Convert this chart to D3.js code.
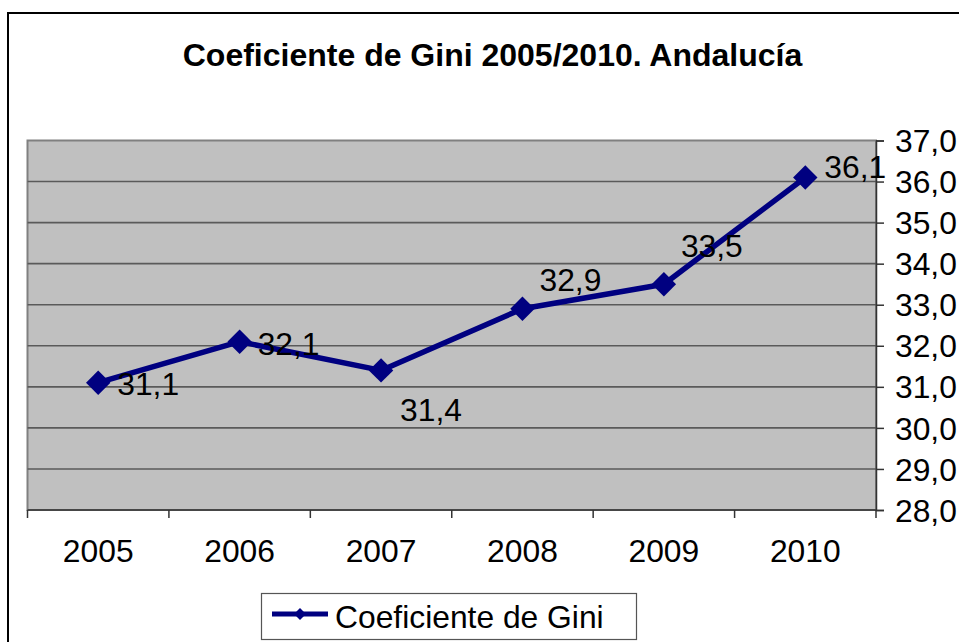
<!DOCTYPE html>
<html>
<head>
<meta charset="utf-8">
<script src="https://cdn.jsdelivr.net/npm/d3@7"></script>
<style>
  html, body { margin: 0; padding: 0; background: #fff; }
  svg { display: block; }
  text { font-family: "Liberation Sans", Arial, "DejaVu Sans", sans-serif; fill: #000; }
</style>
</head>
<body>
<svg id="chart" width="959" height="642"></svg>
<script>
// Coeficiente de Gini, Andalucía 2005–2010
const years = ["2005", "2006", "2007", "2008", "2009", "2010"];
const giniValues = [31.1, 32.1, 31.4, 32.9, 33.5, 36.1];
const yTickValues = [28, 29, 30, 31, 32, 33, 34, 35, 36, 37];
const titleText = "Coeficiente de Gini 2005/2010. Andalucía";
const seriesName = "Coeficiente de Gini";

// label placement relative to each point (dx to the text start, dy to the baseline)
const labelOffsets = [[19, 12], [18, 13], [19, 51], [17, -18], [17, -27], [19, 1]];

const fmt = d => d.toFixed(1).replace(".", ",");

const svg = d3.select("#chart");
const navy = "#000080";
const fontSize = "31.8px";

const plot = { left: 27.5, right: 876, top: 140.5, bottom: 510 };

const x = d3.scaleBand().domain(years).range([plot.left, plot.right]).padding(0);
const y = d3.scaleLinear().domain([28, 37]).range([plot.bottom, plot.top]);
const cx = d => x(d) + x.bandwidth() / 2;

// outer chart frame (right and bottom edges lie past the canvas)
svg.append("rect")
  .attr("x", 8).attr("y", 13).attr("width", 1000).attr("height", 1000)
  .attr("fill", "none").attr("stroke", "#000").attr("stroke-width", 2);

// title
svg.append("text")
  .attr("x", 492.5).attr("y", 66)
  .attr("text-anchor", "middle")
  .style("font-size", "32px").style("font-weight", "bold")
  .text(titleText);

// plot background
svg.append("rect")
  .attr("x", plot.left).attr("y", plot.top)
  .attr("width", plot.right - plot.left).attr("height", plot.bottom - plot.top)
  .attr("fill", "#c0c0c0").attr("stroke", "#808080").attr("stroke-width", 2);

// horizontal gridlines
svg.append("g").selectAll("line")
  .data(yTickValues.filter(v => v > 28 && v < 37))
  .join("line")
  .attr("x1", plot.left).attr("x2", plot.right)
  .attr("y1", d => y(d)).attr("y2", d => y(d))
  .attr("stroke", "#5a5a5a").attr("stroke-width", 1.6);

// right value axis
const yAxis = svg.append("g")
  .attr("transform", `translate(${plot.right},0)`)
  .call(d3.axisRight(y).tickValues(yTickValues).tickFormat(fmt).tickSize(8).tickPadding(11));
yAxis.select(".domain").attr("stroke", "#333").attr("stroke-width", 1.5);
yAxis.selectAll(".tick line").attr("stroke", "#333").attr("stroke-width", 1.5);
yAxis.selectAll(".tick text")
  .style("font-size", fontSize)
  .style("font-family", '"Liberation Sans", Arial, sans-serif')
  .attr("fill", "#000").attr("dy", "0.35em");

// bottom category axis: line, boundary ticks, labels
svg.append("line")
  .attr("x1", plot.left).attr("x2", plot.right)
  .attr("y1", plot.bottom).attr("y2", plot.bottom)
  .attr("stroke", "#333").attr("stroke-width", 1.5);

const boundaries = years.map(d => x(d)).concat([plot.right]);
svg.append("g").selectAll("line")
  .data(boundaries)
  .join("line")
  .attr("x1", d => d).attr("x2", d => d)
  .attr("y1", plot.bottom).attr("y2", plot.bottom + 8)
  .attr("stroke", "#333").attr("stroke-width", 1.5);

svg.append("g").selectAll("text")
  .data(years)
  .join("text")
  .attr("x", d => cx(d)).attr("y", 562)
  .attr("text-anchor", "middle")
  .style("font-size", fontSize)
  .text(d => d);

// series line
const points = years.map((yr, i) => ({ yr, v: giniValues[i], i }));
const line = d3.line().x(d => cx(d.yr)).y(d => y(d.v));

svg.append("path")
  .datum(points)
  .attr("d", line)
  .attr("fill", "none").attr("stroke", navy)
  .attr("stroke-width", 5.5).attr("stroke-linejoin", "round");

// diamond markers
const diamond = d3.symbol().type(d3.symbolDiamond2).size(380);
svg.append("g").selectAll("path")
  .data(points)
  .join("path")
  .attr("d", diamond)
  .attr("transform", d => `translate(${cx(d.yr)},${y(d.v)})`)
  .attr("fill", navy);

// value labels
svg.append("g").selectAll("text")
  .data(points)
  .join("text")
  .attr("x", d => cx(d.yr) + labelOffsets[d.i][0])
  .attr("y", d => y(d.v) + labelOffsets[d.i][1])
  .style("font-size", fontSize)
  .text(d => fmt(d.v));

// legend
const legend = svg.append("g");
legend.append("rect")
  .attr("x", 261.5).attr("y", 593.5).attr("width", 375).attr("height", 46)
  .attr("fill", "#fff").attr("stroke", "#555").attr("stroke-width", 1.2);
legend.append("line")
  .attr("x1", 272).attr("x2", 328).attr("y1", 614).attr("y2", 614)
  .attr("stroke", navy).attr("stroke-width", 5);
legend.append("path")
  .attr("d", d3.symbol().type(d3.symbolDiamond2).size(90))
  .attr("transform", "translate(300,614)")
  .attr("fill", navy);
legend.append("text")
  .attr("x", 335).attr("y", 628)
  .style("font-size", fontSize)
  .text(seriesName);
</script>
</body>
</html>
